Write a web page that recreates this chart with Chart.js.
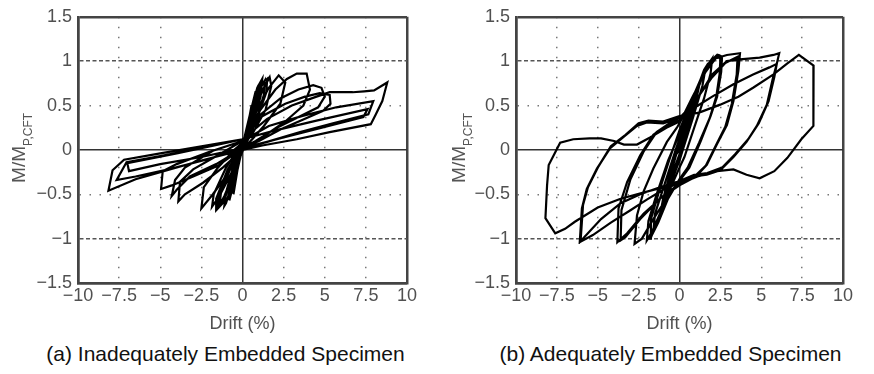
<!DOCTYPE html>
<html>
<head>
<meta charset="utf-8">
<script src="https://cdn.jsdelivr.net/npm/chart.js@4"></script>
<style>
  body { margin: 0; background: #fff; width: 874px; height: 374px; position: relative; overflow: hidden;
         font-family: "Liberation Sans", Arial, sans-serif; }
  .box { position: absolute; top: 0; height: 340px; }
  .caption { position: absolute; top: 342px; width: 437px; font-size: 21px; color: #111; text-align: center; }
</style>
</head>
<body>
<div class="box" style="left:0;width:437px"><canvas id="chartA" width="437" height="340"></canvas></div>
<div class="box" style="left:438px;width:436px"><canvas id="chartB" width="436" height="340"></canvas></div>
<div class="caption" style="left:7px">(a) Inadequately Embedded Specimen</div>
<div class="caption" style="left:452px">(b) Adequately Embedded Specimen</div>
<script>
"use strict"

const driftTicks = [-10, -7.5, -5, -2.5, 0, 2.5, 5, 7.5, 10]
const momentTicks = [-1.5, -1, -0.5, 0, 0.5, 1, 1.5]

// (a) inadequately embedded: drift (%) and M/Mp,CFT, read cycle by cycle
const driftA = [
  0, 0.3, 0.55, 0.5, 0.2, 0, -0.3, -0.55, -0.5, -0.2, 0,
  0.4, 0.8, 0.75, 0.35, 0, -0.4, -0.8, -0.72, -0.3, 0,
  0.5, 0.95, 1.05, 0.95, 0.5, 0, -0.5, -1.0, -1.1, -1.0, -0.5, 0,
  0.6, 1.1, 1.35, 1.3, 0.8, 0.2, -0.5, -1.1, -1.4, -1.3, -0.6, 0,
  0.45, 0.9, 1.2, 1.1, 0.5, 0, -0.6, -1.2, -1.55, -1.4, -0.7, 0,
  0.6, 1.0, 1.5, 1.45, 0.9, 0.3, 0, -0.6, -1.2, -1.6, -1.6, -0.9, 0,
  0.7, 1.3, 1.65, 1.75, 1.4, 0.6, 0, -0.7, -1.4, -1.85, -1.75, -1.0, -0.3, 0,
  0.8, 1.6, 2.2, 2.6, 2.3, 1.3, 0.3, 0, -0.9, -1.8, -2.5, -2.35, -1.5, -0.5, 0,
  1.0, 2.0, 2.7, 3.3, 3.9, 4.1, 3.7, 2.6, 1.2, 0, -1.2, -2.4, -3.5, -3.9, -3.8, -3.0, -1.5, 0,
  1.1, 2.3, 3.4, 4.3, 4.8, 5.0, 4.6, 3.5, 2.0, 0.8, 0, -1.5, -3.0, -4.3, -4.95, -4.85, -4.0, -2.0, 0,
  1.2, 2.6, 3.8, 4.7, 5.3, 5.35, 4.9, 3.8, 2.3, 1.0, 0, -1.6, -3.2, -4.0, -4.3, -4.1, -3.5, -1.8, 0,
  1.6, 3.6, 5.7, 7.95, 7.65, 5.5, 3.5, 1.5, 0, -2.0, -4.5, -6.5, -7.65, -7.05, -5.0, -2.5, 0,
  2.0, 4.5, 7.6, 7.35, 5.0, 2.5, 0, -2.5, -5.0, -6.9, -7.0, -4.0, -1.5, 0,
  1.5, 3.0, 4.5, 5.3, 6.7, 7.4, 8.0, 8.8, 8.5, 8.1, 7.8, 5.3, 3.3, 1.2, 0, -2.5, -5.0, -6.5, -8.15, -7.9, -7.2, -5.0, -2.5, 0
]
const momentA = [
  0, 0.25, 0.5, 0.4, 0.12, 0.03, -0.22, -0.5, -0.4, -0.1, 0,
  0.36, 0.66, 0.52, 0.18, 0.03, -0.28, -0.57, -0.45, -0.12, 0.02,
  0.42, 0.72, 0.75, 0.58, 0.25, 0.05, -0.3, -0.6, -0.63, -0.48, -0.15, 0.03,
  0.45, 0.7, 0.78, 0.62, 0.32, 0.08, -0.25, -0.52, -0.62, -0.47, -0.15, 0.05,
  0.4, 0.7, 0.8, 0.6, 0.22, 0.04, -0.3, -0.58, -0.66, -0.5, -0.18, 0.04,
  0.5, 0.72, 0.8, 0.65, 0.36, 0.1, 0.02, -0.32, -0.6, -0.68, -0.55, -0.22, 0.05,
  0.45, 0.7, 0.82, 0.72, 0.45, 0.18, 0.04, -0.27, -0.52, -0.64, -0.5, -0.2, 0.0, 0.06,
  0.42, 0.7, 0.84, 0.76, 0.52, 0.27, 0.06, 0.02, -0.27, -0.5, -0.66, -0.42, -0.2, 0.0, 0.08,
  0.43, 0.68, 0.8, 0.86, 0.86, 0.68, 0.5, 0.32, 0.14, 0.0, -0.2, -0.37, -0.5, -0.58, -0.36, -0.22, -0.06, 0.1,
  0.4, 0.58, 0.68, 0.73, 0.7, 0.6, 0.48, 0.38, 0.24, 0.1, 0.02, -0.18, -0.3, -0.4, -0.44, -0.24, -0.16, -0.02, 0.1,
  0.38, 0.52, 0.6, 0.64, 0.62, 0.52, 0.44, 0.35, 0.23, 0.1, 0.02, -0.16, -0.3, -0.45, -0.52, -0.34, -0.2, -0.01, 0.1,
  0.27, 0.38, 0.48, 0.55, 0.4, 0.3, 0.2, 0.09, 0.02, -0.1, -0.22, -0.3, -0.34, -0.14, -0.07, 0.02, 0.12,
  0.22, 0.33, 0.46, 0.37, 0.26, 0.14, 0.02, -0.08, -0.16, -0.24, -0.15, -0.04, 0.06, 0.12,
  0.35, 0.5, 0.6, 0.65, 0.65, 0.66, 0.67, 0.76, 0.55, 0.4, 0.29, 0.2, 0.12, 0.05, 0.0, -0.12, -0.25, -0.33, -0.46, -0.23, -0.11, -0.04, 0.04, 0.12
]

// (b) adequately embedded
const driftB = [
  0, 0.4, 0.8, 0.7, 0.2, -0.4, -0.8, -0.7, -0.2, 0,
  0.5, 1.0, 1.2, 1.0, 0.4, 0, -0.6, -1.1, -1.2, -1.0, -0.4, 0,
  0.6, 1.2, 1.5, 1.6, 1.4, 0.8, 0.2, 0, -0.7, -1.3, -1.6, -1.5, -0.9, -0.2, 0,
  0.5, 1.1, 1.7, 2.0, 1.9, 1.5, 0.9, 0.3, 0, -0.6, -1.2, -1.7, -2.0, -1.9, -1.4, -0.7, 0,
  0.7, 1.4, 1.9, 2.3, 2.5, 2.45, 2.25, 1.85, 1.2, 0.5, 0, -0.7, -1.3, -1.8, -1.75, -1.3, -0.6, 0,
  0.6, 1.3, 1.9, 2.4, 2.6, 2.55, 2.3, 1.9, 1.3, 0.6, 0, -0.8, -1.6, -2.3, -2.75, -2.6, -2.2, -1.6, -0.77, -0.16, 0,
  0.8, 1.6, 2.2, 2.9, 3.7, 3.6, 3.3, 2.9, 2.28, 1.67, 1.0, 0, -1.0, -2.2, -3.2, -3.8, -3.73, -3.2, -2.4, -1.6, -0.77, 0,
  1.0, 2.0, 2.8, 3.55, 3.5, 3.2, 2.8, 2.2, 1.6, 0.8, 0, -1.2, -2.4, -3.3, -3.6, -3.55, -3.0, -2.2, -1.4, -0.6, 0,
  1.0, 2.0, 2.9, 3.7, 4.9, 5.75, 6.1, 5.95, 5.7, 5.34, 4.73, 4.1, 3.3, 2.49, 1.67, 0.86, 0, -1.0, -2.0, -3.0, -4.2, -5.3, -6.1,
  -5.97, -5.67, -5.05, -4.24, -3.4, -2.6, -2.0, -1.0, 0,
  0.86, 2.0, 3.3, 4.5, 5.5, 5.95, 5.8, 5.45, 4.85, 4.2, 3.4, 2.6, 1.7, 0.9, 0, -1.2, -2.4, -3.6, -4.8, -5.8, -6.05,
  -5.9, -5.6, -5.0, -4.2, -3.3, -2.5, -1.9, -1.0, 0,
  1.2, 2.49, 3.6, 4.5, 5.75, 6.56, 7.3, 8.2, 8.2, 8.18, 7.45, 6.6, 5.8, 4.9, 4.1, 3.3, 2.3, 1.1, 0, -1.6, -3.6, -5.0, -6.4,
  -7.0, -7.6, -8.2, -8.1, -8.0, -7.3, -6.5, -5.5, -4.8, -4.0, -3.4, -2.6, -1.8, -0.8, 0
]
const momentB = [
  0, 0.25, 0.5, 0.38, 0.05, -0.25, -0.5, -0.38, -0.05, 0,
  0.32, 0.62, 0.72, 0.55, 0.18, -0.05, -0.4, -0.68, -0.74, -0.55, -0.15, 0.05,
  0.4, 0.75, 0.9, 0.93, 0.72, 0.35, 0.0, -0.12, -0.45, -0.78, -0.92, -0.72, -0.38, 0.02, 0.12,
  0.38, 0.7, 0.95, 1.03, 0.86, 0.58, 0.25, -0.08, -0.2, -0.45, -0.72, -0.93, -1.02, -0.8, -0.5, -0.12, 0.18,
  0.48, 0.82, 1.0, 1.07, 1.02, 0.85, 0.6, 0.36, 0.08, -0.2, -0.33, -0.55, -0.82, -1.0, -0.78, -0.5, -0.1, 0.22,
  0.5, 0.8, 1.0, 1.07, 1.05, 0.88, 0.6, 0.38, 0.1, -0.2, -0.35, -0.55, -0.78, -1.0, -1.06, -0.74, -0.47, -0.21, 0.09, 0.25, 0.3,
  0.6, 0.88, 1.03, 1.07, 1.09, 0.89, 0.55, 0.28, 0.06, -0.17, -0.3, -0.38, -0.52, -0.72, -0.94, -1.04, -0.66, -0.36, -0.06, 0.17, 0.28, 0.33,
  0.56, 0.82, 0.98, 1.05, 0.85, 0.52, 0.26, 0.04, -0.18, -0.32, -0.4, -0.55, -0.78, -0.98, -1.02, -0.68, -0.33, -0.02, 0.2, 0.3, 0.36,
  0.55, 0.85, 1.0, 1.02, 1.04, 1.07, 1.09, 0.97, 0.8, 0.51, 0.27, 0.09, -0.08, -0.23, -0.28, -0.3, -0.37, -0.45, -0.56, -0.68, -0.82, -0.96, -1.04,
  -0.66, -0.44, -0.21, 0.02, 0.15, 0.27, 0.31, 0.3, 0.36,
  0.47, 0.6, 0.74, 0.85, 0.93, 0.97, 0.82, 0.55, 0.3, 0.12, -0.05, -0.2, -0.26, -0.28, -0.35, -0.42, -0.5, -0.6, -0.78, -0.98, -1.03,
  -0.62, -0.42, -0.2, 0.04, 0.17, 0.3, 0.33, 0.32, 0.38,
  0.42, 0.51, 0.6, 0.7, 0.85, 0.97, 1.07, 0.95, 0.6, 0.27, 0.12, -0.09, -0.24, -0.32, -0.28, -0.22, -0.24, -0.3, -0.38, -0.45, -0.55, -0.65, -0.81,
  -0.89, -0.94, -0.77, -0.4, -0.17, 0.08, 0.12, 0.13, 0.13, 0.1, 0.06, 0.06, 0.14, 0.25, 0.32
]

const FONT = "'Liberation Sans', Arial, sans-serif"
const GRID = "#555"
const FRAME = "#444"

function minus(v) {
  return String(v).replace("-", "\u2212")
}

// Y-axis title with subscript
const yTitle = {
  id: "yTitle",
  afterDraw(chart, args, opts) {
    const ctx = chart.ctx
    const y = (chart.chartArea.top + chart.chartArea.bottom) / 2 - 2
    ctx.save()
    ctx.translate(opts.x, y)
    ctx.rotate(-Math.PI / 2)
    ctx.fillStyle = "#555"
    ctx.textBaseline = "alphabetic"
    ctx.textAlign = "left"
    ctx.font = `19px ${FONT}`
    const w1 = ctx.measureText("M/M").width
    ctx.font = `12px ${FONT}`
    const w2 = ctx.measureText("P,CFT").width
    const start = -(w1 + w2) / 2
    ctx.font = `19px ${FONT}`
    ctx.fillText("M/M", start, 0)
    ctx.font = `12px ${FONT}`
    ctx.fillText("P,CFT", start + w1, 7)
    ctx.restore()
  }
}

function gridStyle(c, edges, dashed) {
  if (!c.tick) return { w: 2.5, color: FRAME, dash: [] }
  const v = c.tick.value
  if (v === edges[0] || v === edges[1]) return { w: 2.5, color: FRAME, dash: [] }
  if (v === 0) return { w: 1.5, color: "#333", dash: [] }
  if (dashed.includes(v)) return { w: 1.5, color: GRID, dash: [4, 2.5] }
  return { w: 1.5, color: "#777", dash: [1.5, 8.5] }
}

function makeChart(id, drift, moment, padRight, titleX) {
  const points = drift.map((d, i) => ({ x: d, y: moment[i] }))
  const xEdges = [driftTicks[0], driftTicks[driftTicks.length - 1]]
  const yEdges = [momentTicks[0], momentTicks[momentTicks.length - 1]]
  return new Chart(document.getElementById(id), {
    type: "scatter",
    data: {
      datasets: [{
        data: points,
        showLine: true,
        borderColor: "#000",
        borderWidth: 2.2,
        pointRadius: 0,
        tension: 0,
        fill: false
      }]
    },
    options: {
      responsive: false,
      animation: false,
      layout: { padding: { top: 16, right: padRight, left: 0, bottom: 0 } },
      plugins: {
        legend: { display: false },
        tooltip: { enabled: false },
        yTitle: { x: titleX }
      },
      scales: {
        x: {
          type: "linear",
          min: -10,
          max: 10,
          afterBuildTicks: s => { s.ticks = driftTicks.map(v => ({ value: v })) },
          afterFit: s => { s.height = 57 },
          ticks: {
            callback: v => minus(v),
            color: "#505050",
            font: { family: FONT, size: 18 },
            padding: 2,
            maxRotation: 0,
            autoSkip: false
          },
          grid: {
            drawTicks: false,
            lineWidth: c => gridStyle(c, xEdges, []).w,
            color: c => gridStyle(c, xEdges, []).color
          },
          border: {
            width: 2.5,
            color: FRAME,
            dash: c => gridStyle(c, xEdges, []).dash
          },
          title: {
            display: true,
            text: "Drift (%)",
            color: "#505050",
            font: { family: FONT, size: 18 },
            padding: { top: 0, bottom: 5 }
          }
        },
        y: {
          type: "linear",
          min: -1.5,
          max: 1.5,
          afterBuildTicks: s => { s.ticks = momentTicks.map(v => ({ value: v })) },
          afterFit: s => { s.width = 78 },
          ticks: {
            callback: v => minus(v),
            color: "#505050",
            font: { family: FONT, size: 18 },
            padding: 6,
            autoSkip: false
          },
          grid: {
            drawTicks: false,
            lineWidth: c => gridStyle(c, yEdges, [-1, 1]).w,
            color: c => gridStyle(c, yEdges, [-1, 1]).color
          },
          border: {
            width: 2.5,
            color: FRAME,
            dash: c => gridStyle(c, yEdges, [-1, 1]).dash
          }
        }
      }
    },
    plugins: [yTitle]
  })
}

makeChart("chartA", driftA, momentA, 30, 25)
makeChart("chartB", driftB, momentB, 31, 27)
</script>
</body>
</html>
